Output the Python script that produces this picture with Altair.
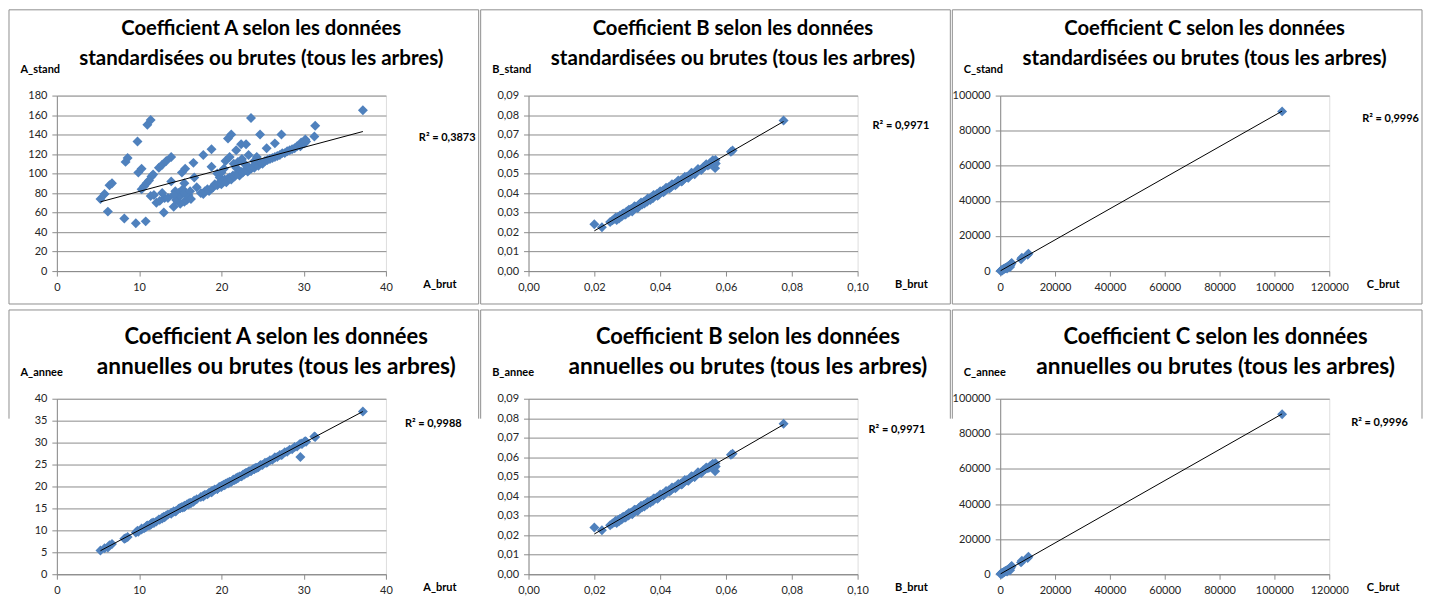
import altair as alt
import pandas as pd

# ---------------- data ----------------
a_brut = [5.3, 5.8, 6.2, 6.4, 6.7, 8.2, 8.35, 8.6, 9.6, 9.8, 9.9, 10.3, 10.8, 11.0, 11.4,
          10.3, 10.6, 10.9, 11.2, 11.5, 11.7, 11.4, 11.8, 12.1, 12.4, 12.8, 13.3, 13.9, 13.1, 13.9,
          14.4, 15.2, 15.6, 15.5, 16.6, 16.7, 16.0, 17.8, 18.8, 20.8, 21.2, 21.8, 22.4, 23.0, 23.6,
          24.7, 25.5, 26.5, 27.3, 31.4, 31.3, 37.2, 29.7, 30.2, 14.8, 15.3, 17.0, 12.5, 13.5,
          14.5, 15.0, 15.5, 16.2, 12.8, 14.2, 18.8, 19.5, 20.3, 20.5, 21.0, 21.5, 22.0, 22.5,
          23.3, 24.0, 24.3, 19.8, 21.8, 20.0, 22.8, 29.6,
          13.0, 14.2, 15.0, 15.5, 15.8, 16.0, 16.3, 17.5, 17.8,
          18.0, 18.3, 18.5, 18.8, 19.0, 19.2, 19.5, 19.7, 20.0, 20.2, 20.4, 20.6, 20.8, 21.0, 21.2,
          21.4, 21.6, 21.8, 22.0, 22.2, 22.4, 22.6, 22.8, 23.0, 23.2, 23.4, 23.6, 23.8, 24.0, 24.2,
          24.5, 24.8, 25.0, 25.3, 25.6, 25.9, 26.2, 26.5, 26.8, 27.1, 27.4, 27.7, 28.0, 28.3, 28.6,
          28.9, 29.2, 29.5, 29.8, 30.1, 30.3]
a_stand = [74, 79, 61, 88, 90, 54, 112, 116, 49, 133, 101, 105, 51, 150, 155,
           84, 87, 90, 93, 97, 99, 77, 78, 70, 106, 109, 113, 117, 75, 92,
           82, 101, 105, 90, 111, 96, 78, 119, 125, 136, 140, 124, 130, 130, 157,
           140, 126, 131, 140, 149, 138, 165, 132, 135, 80, 84, 86, 72, 75,
           73, 77, 80, 82, 80, 78, 107, 100, 105, 113, 117, 110, 112, 115,
           119, 113, 117, 96, 106, 101, 110, 128,
           60, 66, 69, 71, 73, 75, 74, 80, 79,
           82, 84, 82, 85, 86, 89, 88, 90, 89, 92, 94, 91, 95, 96, 94,
           98, 97, 99, 100, 98, 102, 101, 103, 104, 102, 106, 105, 107, 106, 109,
           108, 111, 110, 113, 114, 115, 116, 117, 118, 119, 121, 121, 123, 124, 125,
           126, 128, 129, 130, 131, 133]
a_annee = [5.4, 5.9, 6.1, 6.6, 6.9, 8.1, 8.2, 8.5, 9.5, 9.9, 9.7, 10.2, 10.7, 11.1, 11.3,
           10.4, 10.5, 11.0, 11.1, 11.6, 11.8, 11.4, 11.7, 12.0, 12.5, 12.7, 13.4, 13.8, 13.0, 14.0,
           14.3, 15.3, 15.5, 15.6, 16.5, 16.8, 15.9, 17.9, 18.7, 20.9, 21.1, 21.9, 22.3, 23.1, 23.5,
           24.8, 25.4, 26.6, 27.2, 31.3, 31.4, 37.1, 29.8, 30.3, 14.9, 15.2, 17.1, 12.4, 13.6,
           14.4, 15.1, 15.4, 16.3, 12.9, 14.3, 18.9, 19.4, 20.4, 20.6, 20.9, 21.6, 22.1, 22.4,
           23.4, 24.1, 24.2, 19.9, 21.7, 20.1, 22.9, 26.7,
           13.1, 14.3, 15.1, 15.4, 15.9, 16.1, 16.2, 17.6, 17.7,
           18.1, 18.2, 18.6, 18.7, 19.1, 19.3, 19.4, 19.8, 19.9, 20.3, 20.3, 20.7, 20.7, 21.1, 21.1,
           21.5, 21.5, 21.9, 21.9, 22.3, 22.3, 22.7, 22.7, 23.1, 23.1, 23.5, 23.5, 23.9, 23.9, 24.3,
           24.4, 24.9, 24.9, 25.4, 25.5, 26.0, 26.1, 26.6, 26.7, 27.2, 27.3, 27.8, 27.9, 28.4, 28.5,
           29.0, 29.1, 29.6, 29.7, 30.2, 30.2]

b_brut = [0.0200, 0.0223, 0.0248, 0.0255, 0.0262, 0.0268, 0.0272, 0.0278, 0.0283, 0.0288,
          0.0292, 0.0296, 0.0300, 0.0304, 0.0308, 0.0312, 0.0316, 0.0320, 0.0325, 0.0330,
          0.0335, 0.0340, 0.0345, 0.0350, 0.0355, 0.0360, 0.0366, 0.0372, 0.0378, 0.0384,
          0.0390, 0.0396, 0.0402, 0.0408, 0.0414, 0.0420, 0.0426, 0.0432, 0.0438, 0.0444,
          0.0450, 0.0456, 0.0462, 0.0468, 0.0474, 0.0480, 0.0486, 0.0492, 0.0498, 0.0504,
          0.0510, 0.0517, 0.0524, 0.0531, 0.0538, 0.0545, 0.0552, 0.0558, 0.0565, 0.0567,
          0.0569, 0.0568, 0.0615, 0.0620, 0.0775,
          0.0265, 0.0275, 0.0285, 0.0295, 0.0305, 0.0315, 0.0322, 0.0332, 0.0342, 0.0352,
          0.0362, 0.0370, 0.0380, 0.0392, 0.0400, 0.0410, 0.0418, 0.0428, 0.0436, 0.0446,
          0.0455, 0.0465, 0.0475, 0.0485, 0.0495, 0.0505, 0.0515, 0.0525, 0.0540, 0.0550,
          0.0560, 0.0562]
b_stand = [0.0240, 0.0225, 0.0252, 0.0260, 0.0268, 0.0262, 0.0278, 0.0285, 0.0280, 0.0295,
           0.0290, 0.0302, 0.0307, 0.0300, 0.0312, 0.0318, 0.0310, 0.0325, 0.0330, 0.0326,
           0.0340, 0.0345, 0.0342, 0.0355, 0.0360, 0.0356, 0.0370, 0.0377, 0.0374, 0.0388,
           0.0395, 0.0392, 0.0405, 0.0412, 0.0410, 0.0423, 0.0430, 0.0428, 0.0441, 0.0447,
           0.0446, 0.0458, 0.0465, 0.0463, 0.0476, 0.0483, 0.0480, 0.0494, 0.0501, 0.0499,
           0.0512, 0.0519, 0.0521, 0.0533, 0.0541, 0.0542, 0.0555, 0.0561, 0.0560, 0.0528,
           0.0552, 0.0570, 0.0612, 0.0618, 0.0772,
           0.0275, 0.0270, 0.0292, 0.0290, 0.0315, 0.0306, 0.0332, 0.0323, 0.0352, 0.0346,
           0.0372, 0.0365, 0.0390, 0.0386, 0.0410, 0.0404, 0.0428, 0.0423, 0.0446, 0.0440,
           0.0464, 0.0459, 0.0484, 0.0478, 0.0504, 0.0497, 0.0524, 0.0518, 0.0548, 0.0546,
           0.0568, 0.0556]
b_annee = [0.0240, 0.0226, 0.0251, 0.0260, 0.0267, 0.0263, 0.0278, 0.0284, 0.0281, 0.0295,
           0.0291, 0.0301, 0.0307, 0.0301, 0.0312, 0.0317, 0.0311, 0.0325, 0.0329, 0.0327,
           0.0340, 0.0344, 0.0343, 0.0355, 0.0359, 0.0357, 0.0370, 0.0376, 0.0375, 0.0388,
           0.0394, 0.0393, 0.0405, 0.0411, 0.0411, 0.0423, 0.0429, 0.0429, 0.0441, 0.0446,
           0.0447, 0.0458, 0.0464, 0.0464, 0.0476, 0.0482, 0.0481, 0.0494, 0.0500, 0.0500,
           0.0512, 0.0518, 0.0522, 0.0533, 0.0540, 0.0543, 0.0555, 0.0560, 0.0561, 0.0528,
           0.0553, 0.0569, 0.0613, 0.0618, 0.0772,
           0.0274, 0.0271, 0.0291, 0.0291, 0.0314, 0.0307, 0.0331, 0.0324, 0.0351, 0.0347,
           0.0371, 0.0366, 0.0389, 0.0387, 0.0409, 0.0405, 0.0427, 0.0424, 0.0445, 0.0441,
           0.0463, 0.0460, 0.0483, 0.0479, 0.0503, 0.0498, 0.0523, 0.0519, 0.0547, 0.0547,
           0.0567, 0.0557]

c_brut = [150, 300, 450, 600, 800, 1000, 1200, 1400, 1600, 1800, 2000, 2300, 2600, 2900,
          3200, 3500, 3800, 4000, 4200, 3600, 2500, 700, 7600, 7900, 10000, 10300, 102800]
c_stand = [120, 250, 380, 500, 650, 900, 1050, 1300, 1400, 1650, 1800, 2100, 2300, 2700,
           2900, 3300, 3500, 4200, 4600, 2300, 1500, 300, 6800, 7600, 9300, 9900, 91000]
c_annee = [120, 260, 370, 510, 640, 910, 1040, 1300, 1420, 1640, 1810, 2080, 2320, 2700,
           2880, 3310, 3480, 4200, 4650, 2280, 1520, 310, 6750, 7650, 9300, 9950, 91200]

titles = ["Coefficient A selon les données", "Coefficient B selon les données",
          "Coefficient C selon les données"]
subtitle_top = "standardisées ou brutes (tous les arbres)"
subtitle_bottom = "annuelles ou brutes (tous les arbres)"
r2_labels = ["R² = 0,3873", "R² = 0,9971", "R² = 0,9996",
             "R² = 0,9988", "R² = 0,9971", "R² = 0,9996"]

a_ticks_x = [0, 10, 20, 30, 40]
a_ticks_stand = [0, 20, 40, 60, 80, 100, 120, 140, 160, 180]
a_ticks_annee = [0, 5, 10, 15, 20, 25, 30, 35, 40]
b_ticks_x = [0, 0.02, 0.04, 0.06, 0.08, 0.10]
b_ticks_y = [0, 0.01, 0.02, 0.03, 0.04, 0.05, 0.06, 0.07, 0.08, 0.09]
c_ticks_x = [0, 20000, 40000, 60000, 80000, 100000, 120000]
c_ticks_y = [0, 20000, 40000, 60000, 80000, 100000]

# ---------------- styling ----------------
FONT = "Lato"
BLUE = "#4F81BD"
AX = "#8c8c8c"
BORDER = "#8f8f8f"
W, H = 330, 176


def text_layer(txt, x, y, size, align="center", weight="bold"):
    return alt.Chart(pd.DataFrame({"t": [txt]})).mark_text(
        font=FONT, fontSize=size, fontWeight=weight, color="#000000", align=align,
        baseline="middle").encode(x=alt.value(x), y=alt.value(y), text="t:N")


def panel(xs, ys, xt, yt, xvals, yvals, kind, t1, t2, r2, r2x, r2y, tx, ty,
          s1, s2, top):
    df = pd.DataFrame({"x": xs, "y": ys})
    if kind == "comma":
        lab = dict(labelExpr="replace(format(datum.value, '.2f'), '.', ',')")
    else:
        lab = dict(format="d")
    common = dict(labelFont=FONT, labelFontSize=11, labelColor="#262626",
                  domainColor=AX, tickColor=AX, tickSize=5, labelPadding=5,
                  titleFont=FONT, titleFontSize=11, titleFontWeight="bold",
                  titleColor="#000000", titleAngle=0, titleAlign="left",
                  titleBaseline="middle", labelFlush=False, labelOverlap=False)
    x = alt.X("x:Q", scale=alt.Scale(domain=[xvals[0], xvals[-1]], nice=False, zero=False),
              axis=alt.Axis(values=xvals, grid=False, title=xt, titleX=367, titleY=13,
                            **lab, **common))
    y = alt.Y("y:Q", scale=alt.Scale(domain=[yvals[0], yvals[-1]], nice=False, zero=False),
              axis=alt.Axis(values=yvals, grid=True, gridColor=AX, title=yt,
                            titleX=-37, titleY=-26, **lab, **common))
    one = pd.DataFrame({"k": [0]})
    if top:
        border = alt.Chart(one).mark_rect(fill="white", fillOpacity=0, stroke=BORDER,
                                          strokeWidth=1).encode(
            x=alt.value(-48), x2=alt.value(423), y=alt.value(-86), y2=alt.value(209))
        borders = [border]
    else:
        left = alt.Chart(one).mark_rule(color=BORDER).encode(
            x=alt.value(-48), y=alt.value(-89), y2=alt.value(20))
        right = alt.Chart(one).mark_rule(color=BORDER).encode(
            x=alt.value(423), y=alt.value(-89), y2=alt.value(20))
        topl = alt.Chart(one).mark_rule(color=BORDER).encode(
            x=alt.value(-48), x2=alt.value(423), y=alt.value(-89))
        borders = [left, right, topl]
    pts = alt.Chart(df).mark_point(shape="diamond", filled=True, size=100, color=BLUE,
                                   opacity=1).encode(x=x, y=y)
    line = alt.Chart(df).transform_regression("x", "y").mark_line(
        color="#000000", strokeWidth=1).encode(x=x, y=y)
    l1 = text_layer(t1, tx, ty, s1)
    l2 = text_layer(t2, tx, ty + 30, s2)
    r2t = text_layer(r2, r2x, r2y, 11, align="left")
    return alt.layer(*borders, pts, line, l1, l2, r2t).properties(width=W, height=H)


p1 = panel(a_brut, a_stand, "A_brut", "A_stand", a_ticks_x, a_ticks_stand, "int",
           titles[0], subtitle_top, r2_labels[0], 363, 43, 205, -67, 20.3, 20.6, True)
p2 = panel(b_brut, b_stand, "B_brut", "B_stand", b_ticks_x, b_ticks_y, "comma",
           titles[1], subtitle_top, r2_labels[1], 345, 31, 205, -67, 20.3, 20.6, True)
p3 = panel(c_brut, c_stand, "C_brut", "C_stand", c_ticks_x, c_ticks_y, "int",
           titles[2], subtitle_top, r2_labels[2], 363, 23, 205, -67, 20.3, 20.6, True)
p4 = panel(a_brut, a_annee, "A_brut", "A_annee", a_ticks_x, a_ticks_annee, "int",
           titles[0], subtitle_bottom, r2_labels[3], 349, 25, 220, -62, 22, 22.7, False)
p5 = panel(b_brut, b_annee, "B_brut", "B_annee", b_ticks_x, b_ticks_y, "comma",
           titles[1], subtitle_bottom, r2_labels[4], 341, 31, 220, -62, 22, 22.7, False)
p6 = panel(c_brut, c_annee, "C_brut", "C_annee", c_ticks_x, c_ticks_y, "int",
           titles[2], subtitle_bottom, r2_labels[5], 352, 24, 216, -62, 22, 22.7, False)

chart = alt.concat(p1, p2, p3, p4, p5, p6, columns=3,
                   spacing=alt.RowColnumber(row=128, column=143),
                   bounds="flush").properties(padding=0).configure_view(
    strokeWidth=0).configure(background="white")

chart.save("out.html", embed_options={"renderer": "svg", "actions": False})
